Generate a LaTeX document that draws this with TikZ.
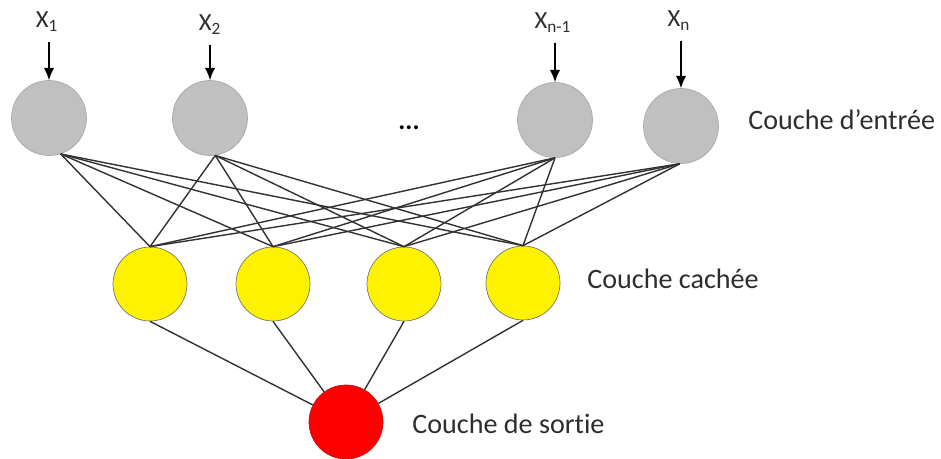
\documentclass[tikz,border=0pt]{standalone}
\usepackage{fontspec}
\setmainfont{Carlito}[Ligatures=NoCommon]
\usetikzlibrary{positioning}
\usetikzlibrary{arrows.meta}

\definecolor{ingray}{RGB}{192,192,192}
\definecolor{inborder}{RGB}{170,170,170}
\definecolor{hidborder}{RGB}{120,120,110}
\definecolor{outborder}{RGB}{200,20,20}
\definecolor{linkgray}{RGB}{50,50,50}
\definecolor{textgray}{RGB}{45,45,45}

\begin{document}
\begin{tikzpicture}
      [
      x=0.02cm,y=-0.02cm,
      input/.style={circle,draw=inborder,fill=ingray,inner sep=0pt,minimum size=1.5cm},
      hidden/.style={circle,draw=hidborder,fill=yellow,inner sep=0pt,minimum size=1.48cm},
      result/.style={circle,draw=outborder,fill=red,inner sep=0pt,minimum size=1.48cm},
      link/.style={draw=linkgray,line width=0.8pt},
      feed/.style={-{Latex[length=7pt,width=6pt]},line width=0.9pt,shorten <=2pt},
      xin/.style={font=\fontsize{14}{16}\selectfont,text=textgray},
      layer/.style={font=\fontsize{16}{19}\selectfont,text=textgray,anchor=west,inner sep=0pt}
      ]
      \useasboundingbox (0,0) rectangle (941,459);
      % input layer
      \node (in1) at (49,118) [input] {};
      \node (in2) at (210,118) [input] {};
      \node (in3) at (555,120) [input] {};
      \node (in4) at (681,126) [input] {};
      \node (dots) at (409,128) {\fontsize{15}{18}\selectfont\textbf{...}};
      \node (lx1) at (47,22) [xin] {X\textsubscript{1}};
      \node (lx2) at (210,25) [xin] {X\textsubscript{2}};
      \node (lx3) at (553,23) [xin] {X\textsubscript{n-1}};
      \node (lx4) at (679,21) [xin] {X\textsubscript{n}};
      \foreach \i in {1,...,4}
        \draw [feed] (lx\i.south -| in\i) -- (in\i.north);
      % hidden layer
      \node (h1) at (150,284) [hidden] {};
      \node (h2) at (273,284) [hidden] {};
      \node (h3) at (404,284) [hidden] {};
      \node (h4) at (523,283) [hidden] {};
      % output layer
      \node (out) at (346,422) [result] {};
      % connections
      \foreach \i/\a in {1/-72,2/-82,3/-90,4/-92}
        \foreach \j in {1,...,4}
          \draw [link] (in\i.\a) -- (h\j.north);
      \foreach \j in {1,...,4}
        \draw [link] (h\j.south) -- (out);
      % layer names
      \node (lin) at (748,120) [layer] {Couche d’entrée};
      \node (lhid) at (587,279) [layer] {Couche cachée};
      \node (lout) at (412,424) [layer] {Couche de sortie};
    \end{tikzpicture}
\end{document}
